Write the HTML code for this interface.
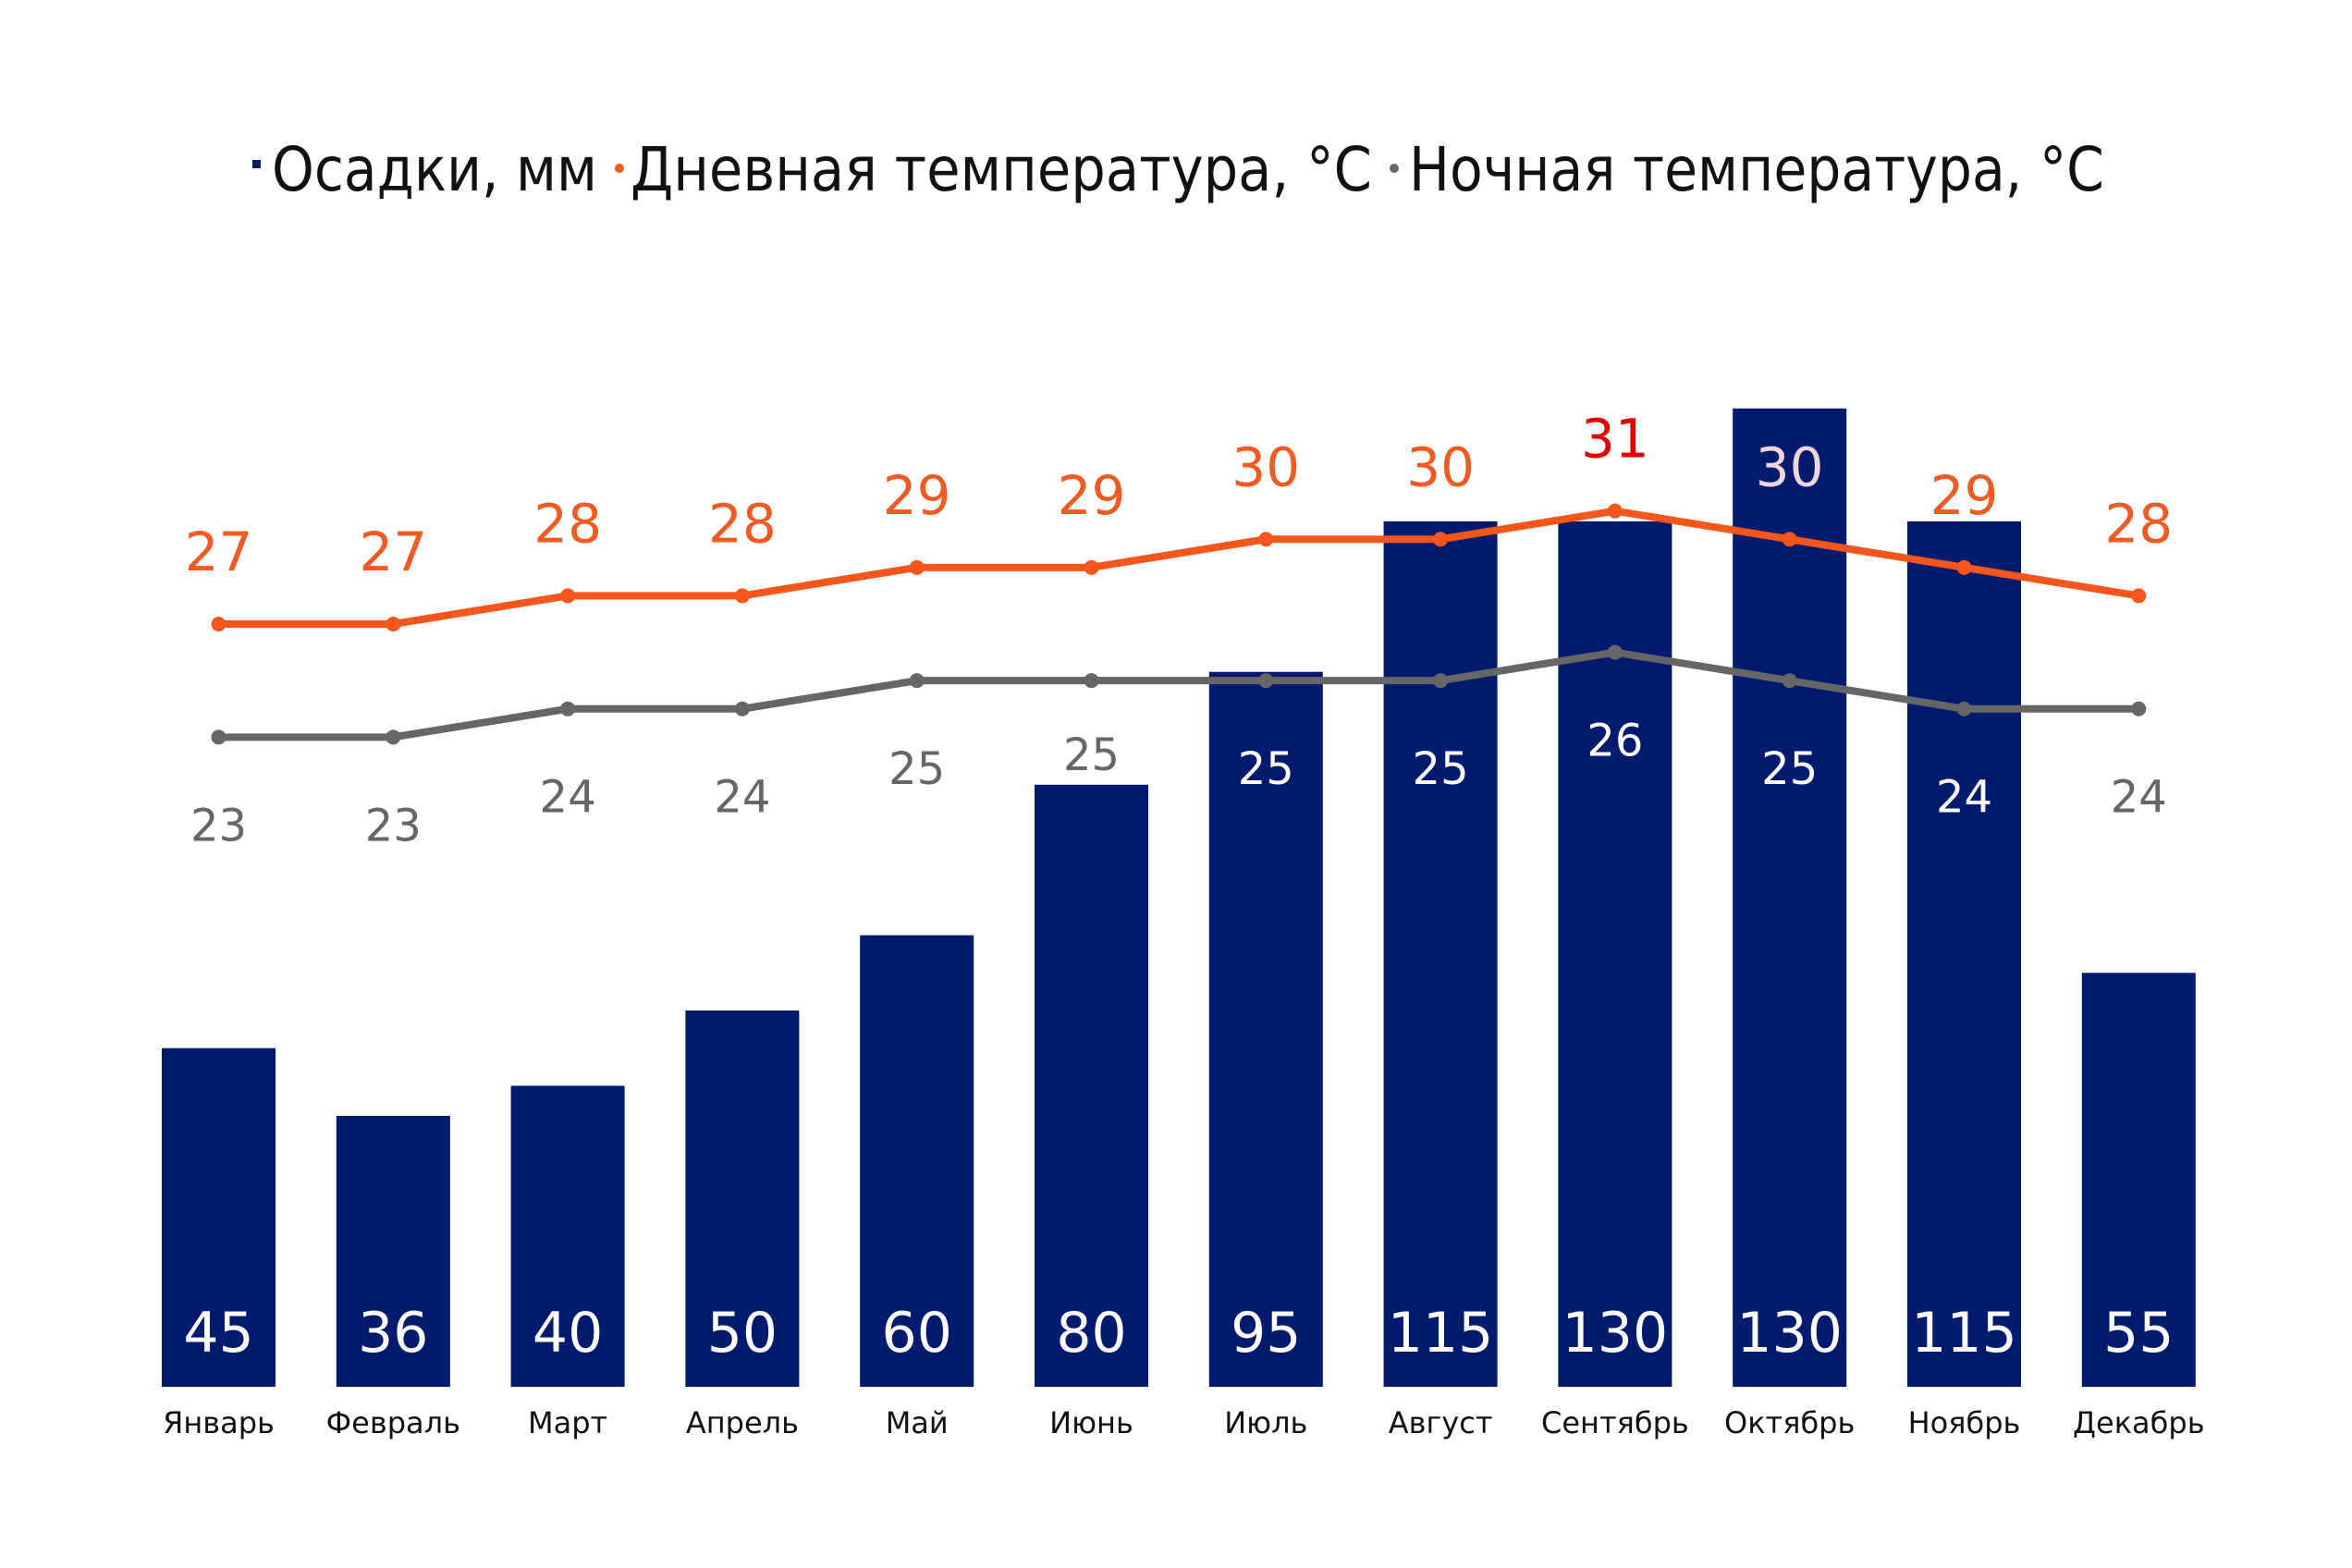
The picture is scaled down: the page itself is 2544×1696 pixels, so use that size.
<!DOCTYPE html>
<html><head><meta charset="utf-8"><style>
html,body{margin:0;padding:0;background:#fff;}
svg{display:block;font-family:"DejaVu Sans","Liberation Sans",sans-serif;}
</style></head><body>
<svg id="chart" width="2544" height="1696" viewBox="0 0 2544 1696" xmlns="http://www.w3.org/2000/svg">
<rect width="2544" height="1696" fill="#fff"/>
<g>
  <rect x="273" y="173" width="9" height="9" fill="#001a6e"/>
  <text x="294" y="206" font-size="66" fill="#111" textLength="352" lengthAdjust="spacingAndGlyphs">Осадки, мм</text>
  <circle cx="670" cy="182" r="5" fill="#f15a22"/>
  <text x="682" y="206" font-size="66" fill="#111" textLength="802" lengthAdjust="spacingAndGlyphs">Дневная температура, °C</text>
  <circle cx="1508" cy="182" r="5" fill="#666"/>
  <text x="1524" y="206" font-size="66" fill="#111" textLength="752" lengthAdjust="spacingAndGlyphs">Ночная температура, °C</text>
</g>
<g id="bars"></g>
<g id="lines"></g>
<g id="labels"></g>
<g id="xaxis"></g>
</svg>
<script>
const months = ["Январь","Февраль","Март","Апрель","Май","Июнь","Июль","Август","Сентябрь","Октябрь","Ноябрь","Декабрь"];
// bar heights as drawn in the picture (September bar is drawn at ~115 height)
const precip = [45,36,40,50,60,80,95,115,115,130,115,55];
// printed precipitation values
const precipLabels = [45,36,40,50,60,80,95,115,130,130,115,55];
const dayTemp = [27,27,28,28,29,29,30,30,31,30,29,28];
const nightTemp = [23,23,24,24,25,25,25,25,26,25,24,24];

const NS="http://www.w3.org/2000/svg";
function xPos(i){return 236.5+i*188.8;}
const baseY=1500;
function yPrecip(v){return baseY - v*8.14;}
function yTemp(t){return 675 - (t-27)*30.58;}
function mk(tag,attrs,parent){const e=document.createElementNS(NS,tag);for(const k in attrs)e.setAttribute(k,attrs[k]);parent.appendChild(e);return e;}
const gB=document.getElementById('bars'),gL=document.getElementById('lines'),gT=document.getElementById('labels'),gX=document.getElementById('xaxis');
const barW=123;
precip.forEach((v,i)=>{
  const r=mk('rect',{x:xPos(i)-barW/2,y:yPrecip(v),width:barW,height:baseY-yPrecip(v),fill:'#001a6e'},gB);
  
  
  const t=mk('text',{x:xPos(i),y:1462,'text-anchor':'middle','font-size':60,fill:'#fff'},gT);
  t.textContent=precipLabels[i];
  
  
  const m=mk('text',{x:xPos(i),y:1550,'text-anchor':'middle','font-size':32,fill:'#111'},gX);
  m.textContent=months[i];
  
  
});
function drawLine(data,color,name){
  const pts=data.map((t,i)=>xPos(i)+','+yTemp(t)).join(' ');
  const p=mk('polyline',{points:pts,fill:'none',stroke:color,'stroke-width':8,'stroke-linejoin':'round'},gL);
  
  
  data.forEach((t,i)=>{
    const c=mk('circle',{cx:xPos(i),cy:yTemp(t),r:8,fill:color},gL);
    
    
  });
}
drawLine(nightTemp,'#666666','night-temp');
drawLine(dayTemp,'#f5561c','day-temp');
const maxDay=Math.max(...dayTemp);
dayTemp.forEach((t,i)=>{
  const onBar=yPrecip(precip[i])<yTemp(t)-95;
  let col=t===maxDay?'#e00000':(onBar?'#f3d3dc':'#f15a22');
  const e=mk('text',{x:xPos(i),y:yTemp(t)-58,'text-anchor':'middle','font-size':58,fill:col},gT);
  e.textContent=t;
  
  
});
nightTemp.forEach((t,i)=>{
  let ly=yTemp(t)+112;
  const top=yPrecip(precip[i]);
  if(top>ly-40 && top<ly+15) ly=top-16;
  const onBar=top<ly-40;
  const e=mk('text',{x:xPos(i),y:ly,'text-anchor':'middle','font-size':48,fill:onBar?'#fff':'#666'},gT);
  e.textContent=t;
  
  
});
</script>
</body></html>
